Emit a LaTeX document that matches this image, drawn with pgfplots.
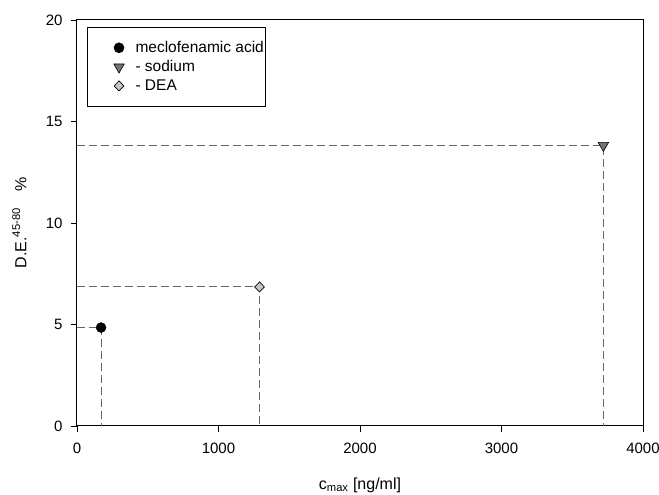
\documentclass[border=0pt]{standalone}
\usepackage{pgfplots}
\pgfplotsset{compat=1.18}
\usepackage{fontspec}
\setmainfont{Liberation Sans}
\begin{document}
\begin{tikzpicture}[x=1pt,y=1pt]
\begin{axis}[
  at={(0,0)}, anchor=south west,
  scale only axis, width=566pt, height=406pt,
  xmin=0, xmax=4000, ymin=0, ymax=20,
  xtick={0,1000,2000,3000,4000}, ytick={0,5,10,15,20},
  tick align=outside, tick pos=left,
  major tick length=6pt,
  axis line style={line width=1pt},
  every tick/.style={black, line width=0.9pt},
  /pgf/number format/assume math mode=true,
  /pgf/number format/set thousands separator={},
  tick label style={font=\fontsize{15}{17}\selectfont},
  xticklabel style={yshift=-7pt},
  yticklabel style={xshift=-5pt},
  label style={font=\fontsize{16}{18}\selectfont},
  xlabel={c\textsubscript{max} [ng/ml]},
  ylabel={D.E.\textsuperscript{45-80}\hspace{1.0em}\%},
  xlabel style={at={(axis description cs:0.5,0)}, anchor=north, yshift=-48pt},
  ylabel style={at={(axis description cs:0,0.5)}, anchor=south, yshift=47pt},
  legend style={at={(axis description cs:0.0177,0.983)}, anchor=north west,
    draw=black, line width=1pt, font=\fontsize{15.5}{18}\selectfont,
    inner xsep=0pt, inner ysep=12pt, row sep=2.5pt},
  legend cell align=left,
  legend image code/.code={\path (-31pt,0pt) (14pt,0pt); \draw[#1, line width=0.6pt] plot coordinates {(0pt,0pt)};},
]
\addplot[only marks, mark=*, mark size=5pt, mark options={fill=black, draw=black}] coordinates {(170,4.85)};
\addlegendentry{meclofenamic acid\hspace{5pt}}
\addplot[only marks, mark=triangle*, mark size=6pt, mark options={rotate=180, fill=gray!90!black, draw=black, line width=0.6pt}] coordinates {(3720,13.82)};
\addlegendentry{- sodium}
\addplot[only marks, mark=diamond*, mark size=5pt, mark options={fill=black!22, draw=black, line width=0.7pt, xscale=1.3}] coordinates {(1290,6.85)};
\addlegendentry{- DEA}
\addplot[forget plot, gray!80!black, line width=0.9pt, dash pattern=on 8pt off 4pt] coordinates {(0,4.85) (170,4.85) (170,0)};
\addplot[forget plot, gray!80!black, line width=0.9pt, dash pattern=on 8pt off 4pt] coordinates {(0,6.85) (1290,6.85) (1290,0)};
\addplot[forget plot, gray!80!black, line width=0.9pt, dash pattern=on 8pt off 4pt] coordinates {(0,13.82) (3720,13.82) (3720,0)};
\end{axis}
\pgfresetboundingbox
\path[use as bounding box] (-77pt,-69pt) rectangle (582pt,426pt);
\end{tikzpicture}
\end{document}
